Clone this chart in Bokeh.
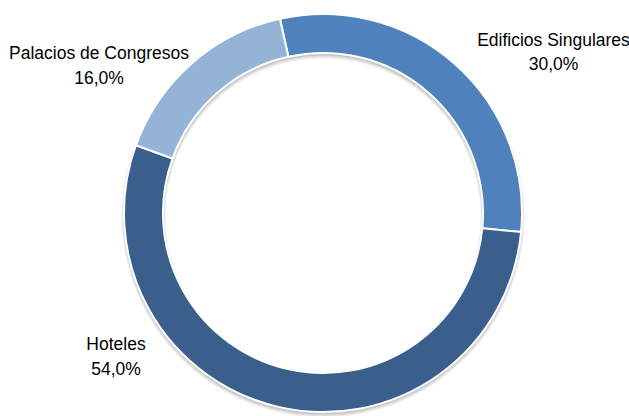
import numpy as np
from bokeh.plotting import figure
from bokeh.models import Range1d, Label, ColumnDataSource
from bokeh.embed import file_html
from bokeh.resources import INLINE

categories = ["Edificios Singulares", "Hoteles", "Palacios de Congresos"]
values = [30.0, 54.0, 16.0]
pct_labels = ["30,0%", "54,0%", "16,0%"]
colors = ["#4F81BD", "#3A5F8D", "#95B3D7"]

W, H = 629, 416
p = figure(width=W, height=H, output_backend="svg", toolbar_location=None,
           x_range=Range1d(0, W), y_range=Range1d(0, H),
           x_axis_type=None, y_axis_type=None, min_border=0)
p.outline_line_color = None
p.grid.visible = False
p.background_fill_color = "white"
p.border_fill_color = "white"

cx, cy = 322.5, 416 - 212.5
r_out, r_in = 199, 160
start_deg = 102.5

vals = np.array(values)
cum = np.concatenate([[0], np.cumsum(vals)]) / vals.sum()
starts = np.deg2rad(start_deg - cum[:-1] * 360)
ends = np.deg2rad(start_deg - cum[1:] * 360)

# soft shadow
for off, extra, a in [(3, 2.5, 0.06), (2.5, 1.5, 0.08), (2, 0.5, 0.10)]:
    p.annulus(x=[cx], y=[cy - off], inner_radius=r_in - extra, outer_radius=r_out + extra,
              fill_color="black", fill_alpha=a, line_color=None)

src = ColumnDataSource(dict(cat=categories, val=values, start=starts, end=ends, color=colors))
p.annular_wedge(x=cx, y=cy, inner_radius=r_in, outer_radius=r_out,
                start_angle="start", end_angle="end", direction="clock",
                fill_color="color", line_color="white", line_width=2, source=src)

label_pos = {
    "Edificios Singulares": (553, 416 - 39, 416 - 63),
    "Hoteles": (115.5, 416 - 343, 416 - 368),
    "Palacios de Congresos": (98.5, 416 - 52, 416 - 77),
}
for cat, pl in zip(categories, pct_labels):
    x, y1, y2 = label_pos[cat]
    for txt, y in [(cat, y1), (pl, y2)]:
        p.add_layout(Label(x=x, y=y, text=txt, text_align="center", text_baseline="alphabetic",
                           text_font="Liberation Sans", text_font_size="17.5px", text_color="#000000"))

open("out.html", "w").write(file_html(p, INLINE))
